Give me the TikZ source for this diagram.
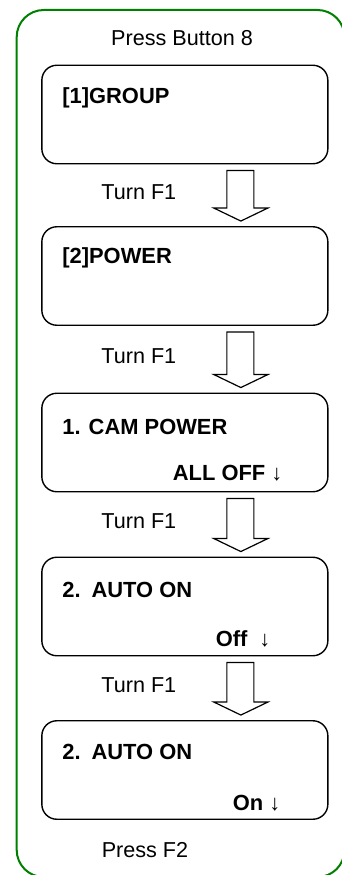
\documentclass[tikz,border=0pt]{standalone}
\usepackage{fontspec}
\setmainfont{Liberation Sans}
\usetikzlibrary{positioning,calc}

\begin{document}
\begin{tikzpicture}[x=1pt, y=-1pt,
        screen/.style={draw, line width=1.4pt, rounded corners=15pt,
            minimum width=286pt, minimum height=98.5pt, inner sep=0pt},
        title/.style={anchor=west, inner sep=0pt, font=\fontsize{21.9}{26}\selectfont\bfseries},
        value/.style={anchor=east, inner sep=0pt, font=\fontsize{21.9}{26}\selectfont\bfseries},
        step label/.style={font=\fontsize{21.6}{26}\selectfont},
        blockarrow/.style={draw, fill=white, line width=1.2pt, line join=miter}]
        \useasboundingbox (0,0) rectangle (342,875);
        % Frame
        \draw [green!50!black, line width=2pt, rounded corners=27pt]
            (16.7,10) rectangle (344.5,877);
        \node [step label] (start) at (182,38) {Press Button 8};
        % Screens
        \node [screen] (box1) at (184.85,114.5) {};
        \node [screen] (box2) at (184.85,276) {};
        \node [screen] (box3) at (184.85,442.5) {};
        \node [screen] (box4) at (184.85,606.5) {};
        \node [screen] (box5) at (184.85,770) {};
        % Screen texts
        \node [title] (t1) at ($(box1.north west)+(21,33)$) {[1]GROUP};
        \node [title] (t2) at ($(box2.north west)+(21,32)$) {[2]POWER};
        \node [title] (t3) at ($(box3.north west)+(21,34)$) {1. CAM POWER};
        \node [title] (t4) at ($(box4.north west)+(21,33)$) {2.\enspace AUTO ON};
        \node [title] (t5) at ($(box5.north west)+(21,32)$) {2.\enspace AUTO ON};
        \node [value] (v3) at ($(box3.south east)+(-46,-19)$) {ALL OFF {\mdseries ↓}};
        \node [value] (v4) at ($(box4.south east)+(-58,-18)$) {Off\hspace{12pt}{\mdseries ↓}};
        \node [value] (v5) at ($(box5.south east)+(-48,-17)$) {On {\mdseries ↓}};
        % Arrows
        \foreach \a/\b in {box1/box2, box2/box3, box3/box4, box4/box5}
        {
        \draw [blockarrow]
            ($(\a.south)+(42,6)$) -- ($(\a.south)+(69,6)$)
            -- ($(\b.north)+(69,-18)$) -- ($(\b.north)+(83,-18)$)
            -- ($(\b.north)+(56,-5)$)
            -- ($(\b.north)+(29,-18)$) -- ($(\b.north)+(42,-18)$) -- cycle;
        \node [step label] (turn\a) at ($(\a.south)!0.5!(\b.north)+(-46,-3)$) {Turn F1};
        }
        \node [step label] (finish) at (145,850) {Press F2};
\end{tikzpicture}
\end{document}
